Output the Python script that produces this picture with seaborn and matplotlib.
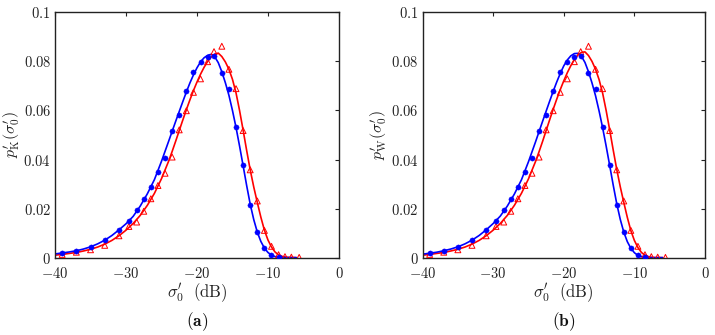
import numpy as np
import pandas as pd
import matplotlib
matplotlib.use('Agg')
import matplotlib.pyplot as plt
import seaborn as sns

# measured points (same samples in both panels)
blue_x = [-39, -37, -35, -33, -31, -29.6, -28.5, -27.5, -26.5, -25.5, -24.5, -23.5, -22.5, -21.5,
          -20.5, -19.5, -18.5, -17.6, -16.5, -15.5, -14.5, -13.5, -12.5, -11.5, -10.5, -9.5, -8.5]
blue_y = [0.0020, 0.0027, 0.0043, 0.0071, 0.0113, 0.0150, 0.0194, 0.0240, 0.0287, 0.0350, 0.0408,
          0.0516, 0.0580, 0.0680, 0.0758, 0.0799, 0.0819, 0.0824, 0.0754, 0.0689, 0.0531, 0.0378,
          0.0216, 0.0106, 0.0038, 0.0011, 0.0003]
red_x = [-39, -37, -35, -33, -31, -29.6, -28.5, -27.5, -26.5, -25.5, -24.5, -23.5, -22.5, -21.5,
         -20.5, -19.5, -18.5, -17.6, -16.5, -15.5, -14.5, -13.5, -12.5, -11.5, -10.5, -9.5, -8.5,
         -7.6, -6.7, -5.6]
red_y = [0.0013, 0.0022, 0.0032, 0.0050, 0.0089, 0.0127, 0.0145, 0.0189, 0.0240, 0.0294, 0.0344,
         0.0410, 0.0521, 0.0599, 0.0674, 0.0729, 0.0799, 0.0840, 0.0862, 0.0768, 0.0689, 0.0518,
         0.0358, 0.0231, 0.0111, 0.0046, 0.0012, 0.0004, 0.0002, 0.0001]

# fitted curves
curve_x = [-40, -39, -38, -37, -36, -35, -34, -33, -32, -31, -30, -29, -28, -27, -26, -25, -24,
           -23.5, -23, -22.5, -22, -21.5, -21, -20.5, -20, -19.5, -19, -18.5, -18, -17.5, -17,
           -16.5, -16, -15.5, -15, -14.5, -14, -13.5, -13, -12.5, -12, -11.5, -11, -10.5, -10,
           -9.5, -9, -8.5, -8, -7.5, -7, -6]
blue_fit_a = [0.0015, 0.0019, 0.0023, 0.0028, 0.0035, 0.0044, 0.0056, 0.0071, 0.0090, 0.0113,
              0.0138, 0.0168, 0.0210, 0.0260, 0.0318, 0.0393, 0.0474, 0.0515, 0.0556, 0.0596,
              0.0636, 0.0675, 0.0712, 0.0745, 0.0774, 0.0798, 0.0815, 0.0825, 0.0829, 0.0819,
              0.0795, 0.0758, 0.0713, 0.0662, 0.0600, 0.0531, 0.0455, 0.0375, 0.0294, 0.0218,
              0.0155, 0.0104, 0.0066, 0.0039, 0.0021, 0.0010, 0.0004, 0.0002, 0.0001, 0.0, 0.0, 0.0]
red_fit_a = [0.0010, 0.0013, 0.0017, 0.0021, 0.0027, 0.0034, 0.0043, 0.0055, 0.0070, 0.0089,
             0.0112, 0.0139, 0.0172, 0.0213, 0.0262, 0.0322, 0.0393, 0.0433, 0.0475, 0.0518,
             0.0561, 0.0603, 0.0643, 0.0681, 0.0716, 0.0748, 0.0776, 0.0800, 0.0818, 0.0830,
             0.0834, 0.0820, 0.0798, 0.0768, 0.0727, 0.0672, 0.0600, 0.0520, 0.0437, 0.0358,
             0.0288, 0.0225, 0.0165, 0.0112, 0.0072, 0.0043, 0.0023, 0.0011, 0.0005, 0.0002,
             0.0001, 0.0]
blue_fit_b = [0.0014, 0.0018, 0.0022, 0.0028, 0.0035, 0.0044, 0.0056, 0.0071, 0.0090, 0.0113,
              0.0139, 0.0169, 0.0210, 0.0259, 0.0317, 0.0391, 0.0472, 0.0514, 0.0556, 0.0597,
              0.0638, 0.0678, 0.0716, 0.0751, 0.0782, 0.0806, 0.0823, 0.0832, 0.0833, 0.0821,
              0.0796, 0.0758, 0.0712, 0.0660, 0.0598, 0.0530, 0.0455, 0.0376, 0.0296, 0.0220,
              0.0156, 0.0104, 0.0065, 0.0038, 0.0020, 0.0009, 0.0004, 0.0001, 0.0, 0.0, 0.0, 0.0]
red_fit_b = [0.0010, 0.0013, 0.0017, 0.0021, 0.0027, 0.0034, 0.0043, 0.0055, 0.0070, 0.0089,
             0.0112, 0.0139, 0.0172, 0.0213, 0.0262, 0.0321, 0.0392, 0.0432, 0.0474, 0.0518,
             0.0562, 0.0605, 0.0646, 0.0685, 0.0721, 0.0754, 0.0783, 0.0807, 0.0826, 0.0837,
             0.0839, 0.0824, 0.0800, 0.0768, 0.0726, 0.0671, 0.0600, 0.0521, 0.0439, 0.0360,
             0.0289, 0.0225, 0.0164, 0.0110, 0.0070, 0.0041, 0.0021, 0.0010, 0.0004, 0.0001,
             0.0, 0.0]

ylabels = [r"$p^{\prime}_{\mathrm{K}}(\sigma^{\prime}_{0})$",
           r"$p^{\prime}_{\mathrm{W}}(\sigma^{\prime}_{0})$"]
panel_tags = [r"$\mathbf{(a)}$", r"$\mathbf{(b)}$"]

sns.set_style('white')
plt.rcParams['mathtext.fontset'] = 'cm'
plt.rcParams['font.family'] = ['DejaVu Serif']

BLUE, RED = '#0000ff', '#ff0000'
fig = plt.figure(figsize=(7.15, 3.35), dpi=100)
boxes = [[0.077, 0.231, 0.397, 0.732], [0.591, 0.231, 0.395, 0.732]]
fits = [(blue_fit_a, red_fit_a), (blue_fit_b, red_fit_b)]

for i in range(2):
    ax = fig.add_axes(boxes[i])
    bfit, rfit = fits[i]
    sns.lineplot(x=curve_x, y=rfit, color=RED, lw=1.2, ax=ax, estimator=None, sort=False)
    sns.lineplot(x=curve_x, y=bfit, color=BLUE, lw=1.2, ax=ax, estimator=None, sort=False)
    sns.scatterplot(x=red_x, y=red_y, marker='^', s=18, facecolors='none', edgecolor=RED,
                    linewidth=0.7, ax=ax, zorder=3)
    sns.scatterplot(x=blue_x, y=blue_y, marker='o', s=14, color=BLUE, edgecolor=BLUE,
                    linewidth=0.3, ax=ax, zorder=4)
    ax.set_xlim(-40, 0)
    ax.set_ylim(0, 0.1)
    ax.set_xticks([-40, -30, -20, -10, 0])
    ax.set_yticks([0, 0.02, 0.04, 0.06, 0.08, 0.1])
    ax.xaxis.set_major_formatter(matplotlib.ticker.FuncFormatter(lambda v, p: f'${v:g}$'))
    ax.yaxis.set_major_formatter(matplotlib.ticker.FuncFormatter(lambda v, p: f'${v:g}$'))
    ax.tick_params(direction='in', length=3, width=0.8, labelsize=10.5, colors='#222222',
                   top=True, right=True)
    ax.tick_params(axis='x', pad=6)
    ax.tick_params(axis='y', pad=3)
    for s in ax.spines.values():
        s.set_color('#222222')
        s.set_linewidth(1.0)
    ax.set_xlabel(r"$\sigma^{\prime}_{0}\ \ (\mathrm{dB})$", fontsize=12, labelpad=0,
                  color='#222222')
    ax.set_ylabel(ylabels[i], fontsize=11.5, labelpad=1, color='#222222')
    fig.text(boxes[i][0] + boxes[i][2] / 2, 0.04, panel_tags[i], ha='center', va='center',
             fontsize=12.5, color='#111111')

fig.savefig('out.png', dpi=100)
